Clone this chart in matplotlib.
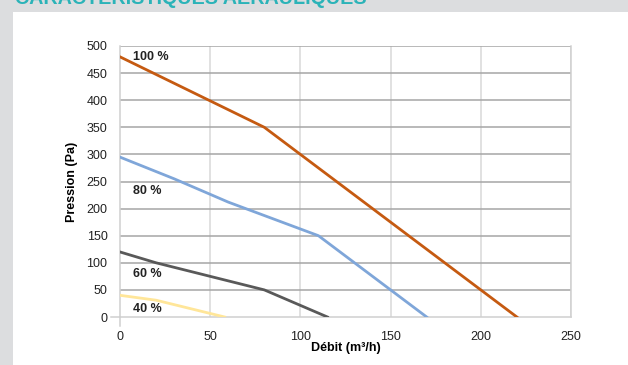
import matplotlib
matplotlib.use("Agg")
import matplotlib.pyplot as plt
from matplotlib.patches import Rectangle

# courbes debit / pression par vitesse
labels = ['100 %', '80 %', '60 %', '40 %']
debit_100 = [0, 80, 220]
pression_100 = [480, 350, 0]
debit_80 = [0, 30, 60, 110, 170]
pression_80 = [295, 255, 212, 150, 0]
debit_60 = [0, 20, 80, 115]
pression_60 = [120, 100, 50, 0]
debit_40 = [0, 20, 58]
pression_40 = [40, 31, 0]
label_pos = [(7, 479), (7, 233), (7, 79), (7, 14)]

xticks = [0, 50, 100, 150, 200, 250]
yticks = [0, 50, 100, 150, 200, 250, 300, 350, 400, 450, 500]

plt.rcParams['font.family'] = ['Liberation Sans Narrow', 'Liberation Sans', 'DejaVu Sans']

W, H = 628, 365
fig = plt.figure(figsize=(W / 100, H / 100), dpi=100)
fig.patch.set_facecolor('white')

# bandeau gris + titre coupe en haut
fig.patches.append(Rectangle((0, 1 - 12 / H), 1, 12 / H, transform=fig.transFigure,
                             facecolor='#dcdddf', edgecolor='none', zorder=0))
fig.patches.append(Rectangle((0, 0), 13 / W, 1, transform=fig.transFigure,
                             facecolor='#dcdddf', edgecolor='none', zorder=0))
fig.text(15 / W, 1 - 4 / H, 'CARACTÉRISTIQUES AÉRAULIQUES', color='#2bb3b8',
         fontsize=14.2, fontweight='bold', ha='left', va='baseline')

ax = fig.add_axes([120 / W, (H - 317) / H, (571 - 120) / W, (317 - 46) / H])
ax.set_xlim(0, 250)
ax.set_ylim(0, 500)

for y in yticks[1:]:
    ax.axhline(y, color='#a6a6a6', lw=1.1, zorder=1)
for x in xticks[1:]:
    ax.axvline(x, color='#d9d9d9', lw=1.1, zorder=0.5)

ax.plot(debit_100, pression_100, color='#c55a11', lw=2, zorder=3)
ax.plot(debit_80, pression_80, color='#7fa6d9', lw=2, zorder=3)
ax.plot(debit_60, pression_60, color='#595959', lw=2, zorder=3)
ax.plot(debit_40, pression_40, color='#ffe699', lw=2, zorder=3)

for lab, (x, y) in zip(labels, label_pos):
    ax.text(x, y, lab, fontsize=9, fontweight='bold', color='#222222',
            ha='left', va='center', zorder=4)

ax.spines['top'].set_visible(False)
for side in ['left', 'bottom', 'right']:
    ax.spines[side].set_color('#d0d0d0')
    ax.spines[side].set_linewidth(1.1)

ax.set_xticks(xticks)
ax.set_yticks(yticks)
ax.tick_params(axis='both', length=0, labelsize=9, colors='#222222')
ax.tick_params(axis='x', pad=10)
ax.tick_params(axis='y', pad=9)

# petit depassement a l'origine
ax.plot([-9 / 1.8, 0], [0, 0], color='#d0d0d0', lw=1.1, clip_on=False)
ax.plot([0, 0], [0, -9 / 0.54], color='#d0d0d0', lw=1.1, clip_on=False)

ax.set_xlabel('Débit (m³/h)', fontsize=9, fontweight='bold', labelpad=-1)
ax.set_ylabel('Pression (Pa)', fontsize=9, fontweight='bold', labelpad=6)

fig.savefig('out.png', dpi=100)
